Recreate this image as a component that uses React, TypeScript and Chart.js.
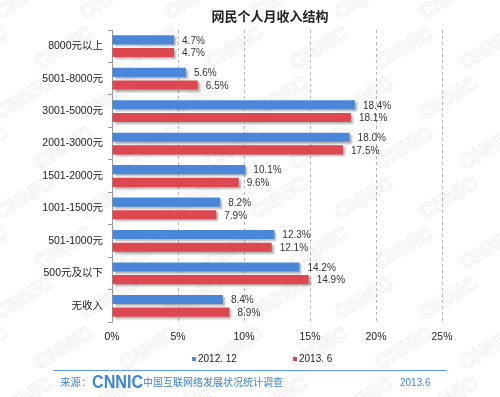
import React, { useEffect, useRef } from "react";
import { Chart, registerables } from "chart.js";

Chart.register(...registerables);

const categories = [
  "8000元以上",
  "5001-8000元",
  "3001-5000元",
  "2001-3000元",
  "1501-2000元",
  "1001-1500元",
  "501-1000元",
  "500元及以下",
  "无收入",
];
const series2012 = [4.7, 5.6, 18.4, 18.0, 10.1, 8.2, 12.3, 14.2, 8.4];
const series2013 = [4.7, 6.5, 18.1, 17.5, 9.6, 7.9, 12.1, 14.9, 8.9];
const seriesNames = ["2012. 12", "2013. 6"];
const xTicks = [0, 5, 10, 15, 20, 25];
const titleText = "网民个人月收入结构";
const sourceLabel = "来源：";
const sourceName = "中国互联网络发展状况统计调查";
const sourceDate = "2013.6";

const BLUE = "#4a87d8";
const RED = "#dc4750";
const FOOT = "#3d86d6";
const FONT = '"Liberation Sans", "Noto Sans CJK SC", sans-serif';

export default function App() {
  const ref = useRef<HTMLCanvasElement | null>(null);

  useEffect(() => {
    if (!ref.current) return;

    const decor = {
      id: "decor",
      beforeDraw(chart: any) {
        const ctx = chart.ctx;
        ctx.save();
        ctx.fillStyle = "#ffffff";
        ctx.fillRect(0, 0, chart.width, chart.height);
        // faint watermark
        ctx.strokeStyle = "rgba(190,190,190,0.22)";
        ctx.lineWidth = 1.2;
        ctx.font = "bold 20px " + FONT;
        for (let r = -1; r < 9; r++) {
          for (let c = -1; c < 7; c++) {
            ctx.save();
            ctx.translate(c * 85 + (r % 2) * 40, r * 50 + 20);
            ctx.rotate(-0.55);
            ctx.strokeText("CNNIC", 0, 0);
            ctx.restore();
          }
        }
        ctx.restore();
      },
      beforeDatasetsDraw(chart: any) {
        const ctx = chart.ctx;
        ctx.save();
        ctx.shadowColor = "rgba(0,0,0,0.3)";
        ctx.shadowOffsetX = 2;
        ctx.shadowOffsetY = 2;
        ctx.shadowBlur = 2;
      },
      afterDatasetsDraw(chart: any) {
        const ctx = chart.ctx;
        ctx.restore();
        ctx.save();
        ctx.fillStyle = "#333333";
        ctx.font = "10px " + FONT;
        ctx.textAlign = "left";
        ctx.textBaseline = "middle";
        chart.data.datasets.forEach((ds: any, di: number) => {
          const meta = chart.getDatasetMeta(di);
          meta.data.forEach((el: any, i: number) => {
            ctx.fillText(ds.data[i].toFixed(1) + "%", el.x + 8, el.y + 1);
          });
        });
        ctx.restore();
      },
      afterDraw(chart: any) {
        const ctx = chart.ctx;
        ctx.save();
        // title
        ctx.fillStyle = "#222";
        ctx.font = "bold 13px " + FONT;
        ctx.textAlign = "center";
        ctx.textBaseline = "middle";
        ctx.fillText(titleText, 270, 17);
        // legend
        ctx.font = "10px " + FONT;
        ctx.textAlign = "left";
        ctx.fillStyle = BLUE;
        ctx.fillRect(192, 357, 4, 4);
        ctx.fillStyle = "#222";
        ctx.fillText(seriesNames[0], 198, 359);
        ctx.fillStyle = RED;
        ctx.fillRect(293, 357, 4, 4);
        ctx.fillStyle = "#222";
        ctx.fillText(seriesNames[1], 299, 359);
        // footer line
        ctx.strokeStyle = "#5b9be0";
        ctx.lineWidth = 1;
        ctx.beginPath();
        ctx.moveTo(53, 370.5);
        ctx.lineTo(447, 370.5);
        ctx.stroke();
        // footer text
        ctx.fillStyle = FOOT;
        ctx.font = "10.5px " + FONT;
        ctx.fillText(sourceLabel, 60, 383);
        ctx.save();
        ctx.font = "bold 17px " + FONT;
        ctx.translate(92, 383);
        ctx.scale(0.95, 1.1);
        ctx.fillText("CNNIC", 0, 0);
        ctx.restore();
        ctx.font = "10px " + FONT;
        ctx.fillText(sourceName, 143, 383);
        ctx.fillText(sourceDate, 400, 383);
        ctx.restore();
      },
    };

    const chart = new Chart(ref.current, {
      type: "bar",
      data: {
        labels: categories,
        datasets: [
          {
            label: seriesNames[0],
            data: series2012,
            backgroundColor: BLUE,
            categoryPercentage: 0.78,
            barPercentage: 0.72,
          },
          {
            label: seriesNames[1],
            data: series2013,
            backgroundColor: RED,
            categoryPercentage: 0.78,
            barPercentage: 0.72,
          },
        ],
      },
      options: {
        indexAxis: "y",
        animation: false,
        responsive: false,
        devicePixelRatio: 1,
        layout: { padding: { top: 30, right: 58, bottom: 55, left: 0 } },
        plugins: {
          legend: { display: false },
          title: { display: false },
          tooltip: { enabled: false },
        },
        scales: {
          x: {
            min: 0,
            max: 25,
            afterBuildTicks(scale: any) {
              scale.ticks = xTicks.map((v) => ({ value: v }));
            },
            afterFit(scale: any) {
              scale.height = 20;
            },
            ticks: {
              callback: (v: any) => v + "%",
              color: "#222",
              font: { size: 10.5, family: FONT },
              padding: 9,
              maxRotation: 0,
            },
            grid: {
              color: "#b5b5b5",
              drawTicks: false,
              lineWidth: 1,
            },
            border: { display: true, color: "rgba(0,0,0,0)", dash: [3, 3] },
          },
          y: {
            afterFit(scale: any) {
              scale.width = 112;
            },
            ticks: {
              color: "#222",
              font: { size: 10.5, family: FONT },
              padding: 5,
            },
            grid: {
              drawOnChartArea: false,
              drawTicks: true,
              tickLength: 4,
              color: "#999",
              offset: true,
            },
            border: { display: true, color: "#999" },
          },
        },
      },
      plugins: [decor],
    } as any);

    return () => chart.destroy();
  }, []);

  return (
    <div style={{ position: "absolute", left: 0, top: 0, width: 500, height: 397 }}>
      <canvas ref={ref} width={500} height={397} style={{ width: 500, height: 397 }} />
    </div>
  );
}
